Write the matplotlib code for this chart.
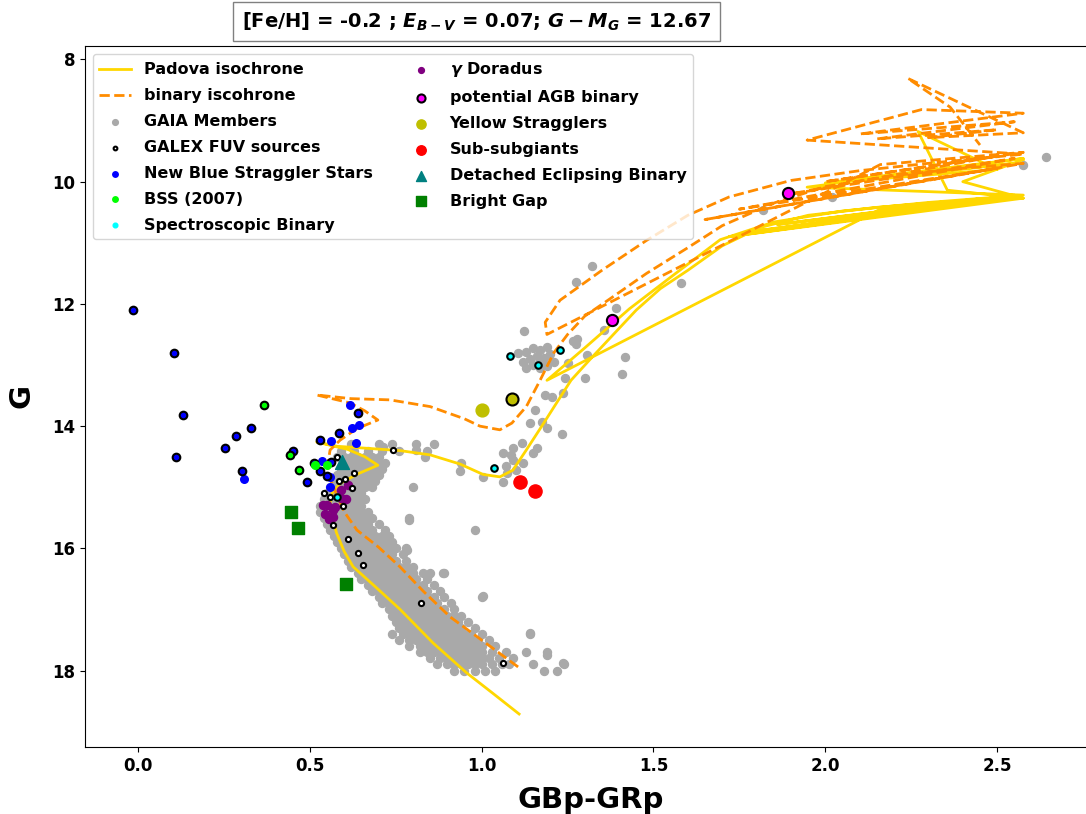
import matplotlib
matplotlib.use("Agg")
import matplotlib.pyplot as plt

plt.rcParams['font.weight'] = 'bold'
plt.rcParams['axes.labelweight'] = 'bold'
plt.rcParams['mathtext.fontset'] = 'custom'
plt.rcParams['mathtext.rm'] = 'DejaVu Sans:bold'
plt.rcParams['mathtext.it'] = 'DejaVu Sans:italic:bold'
plt.rcParams['mathtext.bf'] = 'DejaVu Sans:bold'

# Padova isochrone (single stars)
pad_x = [1.109, 1.03, 0.957, 0.859, 0.763, 0.695, 0.626, 0.600, 0.578, 0.563, 0.559, 0.566,
         0.590, 0.640, 0.698, 0.660, 0.610, 0.520, 0.580, 0.660, 0.762, 0.850, 0.937, 1.004,
         1.053, 1.091, 1.130, 1.175, 1.218, 1.260, 1.320, 1.380, 1.450, 1.520, 1.600, 1.700,
         1.810, 1.950, 2.150, 2.350, 2.576, 1.720, 2.500, 1.780, 2.550, 1.860, 2.450, 2.160,
         1.190, 1.300, 1.430, 1.560, 1.694, 1.850, 2.050, 2.300, 2.576, 1.947, 2.576, 2.000,
         2.550, 2.100, 2.500, 2.270, 2.355, 2.576, 2.400, 2.576]
pad_y = [18.71, 18.36, 18.04, 17.55, 17.00, 16.65, 16.30, 16.05, 15.75, 15.45, 15.25, 15.08,
         14.93, 14.78, 14.64, 14.50, 14.38, 14.26, 14.33, 14.36, 14.40, 14.47, 14.62, 14.79,
         14.83, 14.72, 14.39, 14.00, 13.62, 13.25, 12.88, 12.52, 12.10, 11.75, 11.45, 11.05,
         10.75, 10.55, 10.42, 10.33, 10.27, 10.90, 10.30, 10.82, 10.22, 10.70, 10.28, 10.45,
         13.25, 12.72, 12.08, 11.52, 10.95, 10.66, 10.48, 10.34, 10.22, 10.09, 9.62, 10.02,
         9.70, 9.98, 9.80, 9.18, 10.14, 10.27, 10.00, 9.64]

# binary isochrone
bin_x = [1.106, 1.000, 0.908, 0.830, 0.762, 0.700, 0.637, 0.600, 0.573, 0.555, 0.553, 0.559,
         0.588, 0.637, 0.698, 0.660, 0.617, 0.520, 0.620, 0.733, 0.850, 0.950, 0.995, 1.053,
         1.088, 1.130, 1.170, 1.210, 1.250, 1.300, 1.370, 1.480, 1.600, 1.700, 1.850, 2.000,
         2.200, 2.400, 2.576, 1.650, 2.500, 1.750, 2.550, 1.900, 2.500, 2.000, 2.576, 2.160,
         1.190, 1.185, 1.228, 1.350, 1.480, 1.600, 1.720, 1.900, 2.100, 2.300, 2.576, 1.947,
         2.280, 2.576, 2.100, 2.550, 2.150, 2.500, 2.300, 2.576, 2.240, 2.363, 2.450]
bin_y = [17.94, 17.50, 17.12, 16.70, 16.30, 15.98, 15.70, 15.40, 15.05, 14.80, 14.60, 14.39,
         14.23, 14.04, 13.90, 13.75, 13.62, 13.49, 13.55, 13.57, 13.68, 13.88, 14.00, 14.06,
         13.95, 13.68, 13.25, 12.80, 12.50, 12.20, 11.93, 11.50, 11.08, 10.72, 10.35, 10.08,
         9.90, 9.78, 9.70, 10.62, 9.78, 10.45, 9.62, 10.20, 9.58, 10.00, 9.52, 9.72,
         12.50, 12.30, 11.94, 11.45, 10.96, 10.55, 10.25, 9.98, 9.82, 9.70, 9.55, 9.32,
         8.82, 8.88, 9.22, 9.02, 9.30, 9.15, 9.28, 9.20, 8.31, 8.78, 9.40]

# GAIA members: main sequence rows (G, colours) and scattered stars
gaia_rows = [
    (14.3, [0.62, 0.70, 0.74, 0.81, 0.862]),
    (14.4, [0.59, 0.63, 0.67, 0.71, 0.76, 0.84]),
    (14.5, [0.58, 0.60, 0.62, 0.64, 0.66, 0.68, 0.70, 0.835]),
    (14.6, [0.60, 0.62, 0.64, 0.66, 0.68, 0.70, 0.72]),
    (14.7, [0.59, 0.61, 0.63, 0.65, 0.67, 0.69, 0.71]),
    (14.8, [0.58, 0.60, 0.62, 0.64, 0.66, 0.68, 0.70]),
    (14.9, [0.57, 0.59, 0.61, 0.63, 0.65, 0.67, 0.69]),
    (15.0, [0.56, 0.58, 0.60, 0.62, 0.64, 0.66, 0.68, 0.80]),
    (15.1, [0.55, 0.57, 0.59, 0.61, 0.63, 0.65]),
    (15.2, [0.54, 0.56, 0.58, 0.60, 0.62, 0.64, 0.66]),
    (15.3, [0.53, 0.55, 0.57, 0.59, 0.61, 0.63, 0.65]),
    (15.4, [0.53, 0.55, 0.57, 0.59, 0.61, 0.63, 0.65, 0.67]),
    (15.5, [0.54, 0.56, 0.58, 0.60, 0.62, 0.64, 0.66, 0.68, 0.79]),
    (15.6, [0.55, 0.57, 0.59, 0.61, 0.63, 0.65, 0.67, 0.70]),
    (15.7, [0.56, 0.58, 0.60, 0.62, 0.64, 0.66, 0.68, 0.72, 0.98]),
    (15.8, [0.57, 0.59, 0.61, 0.63, 0.65, 0.67, 0.69, 0.71, 0.73]),
    (15.9, [0.58, 0.60, 0.62, 0.64, 0.66, 0.68, 0.70, 0.72, 0.74]),
    (16.0, [0.59, 0.61, 0.63, 0.65, 0.67, 0.69, 0.71, 0.73, 0.75, 0.78]),
    (16.1, [0.60, 0.62, 0.64, 0.66, 0.68, 0.70, 0.72, 0.74, 0.77]),
    (16.2, [0.61, 0.63, 0.65, 0.67, 0.69, 0.71, 0.73, 0.75, 0.78]),
    (16.3, [0.62, 0.64, 0.66, 0.68, 0.70, 0.72, 0.74, 0.76, 0.78, 0.80]),
    (16.4, [0.64, 0.66, 0.68, 0.70, 0.72, 0.74, 0.76, 0.78, 0.80, 0.83, 0.85, 0.89]),
    (16.5, [0.65, 0.67, 0.69, 0.71, 0.73, 0.75, 0.77, 0.79, 0.81, 0.84]),
    (16.6, [0.67, 0.69, 0.71, 0.73, 0.75, 0.77, 0.79, 0.81, 0.83, 0.86]),
    (16.7, [0.68, 0.70, 0.72, 0.74, 0.76, 0.78, 0.80, 0.82, 0.84, 0.88]),
    (16.8, [0.70, 0.72, 0.74, 0.76, 0.78, 0.80, 0.82, 0.84, 0.86, 0.89, 1.00]),
    (16.9, [0.71, 0.73, 0.75, 0.77, 0.79, 0.81, 0.83, 0.85, 0.87, 0.91]),
    (17.0, [0.73, 0.75, 0.77, 0.79, 0.81, 0.83, 0.85, 0.87, 0.89, 0.92]),
    (17.1, [0.74, 0.76, 0.78, 0.80, 0.82, 0.84, 0.86, 0.88, 0.90, 0.92, 0.94]),
    (17.2, [0.75, 0.77, 0.79, 0.81, 0.83, 0.85, 0.87, 0.89, 0.91, 0.93, 0.96]),
    (17.3, [0.76, 0.78, 0.80, 0.82, 0.84, 0.86, 0.88, 0.90, 0.92, 0.94, 0.98]),
    (17.4, [0.74, 0.77, 0.79, 0.81, 0.83, 0.85, 0.87, 0.89, 0.91, 0.93, 0.95, 0.97, 1.00, 1.14]),
    (17.5, [0.76, 0.79, 0.81, 0.83, 0.85, 0.87, 0.89, 0.91, 0.93, 0.95, 0.97, 0.99, 1.02]),
    (17.6, [0.79, 0.82, 0.84, 0.86, 0.88, 0.90, 0.92, 0.94, 0.96, 0.98, 1.00, 1.04]),
    (17.7, [0.82, 0.84, 0.86, 0.88, 0.90, 0.92, 0.94, 0.96, 0.98, 1.00, 1.03, 1.07, 1.13, 1.19]),
    (17.8, [0.85, 0.88, 0.90, 0.92, 0.94, 0.96, 0.98, 1.00, 1.02, 1.05, 1.09]),
    (17.9, [0.87, 0.90, 0.92, 0.94, 0.96, 0.98, 1.00, 1.03, 1.06, 1.08, 1.15, 1.24]),
    (18.0, [0.92, 0.95, 0.98, 1.01, 1.04, 1.18, 1.22]),
]
gaia_extra_x = [0.713, 0.810, 0.940, 0.937, 1.004, 1.063, 1.073, 1.100, 1.090, 1.063, 1.084,
                1.150, 1.160, 1.091, 1.118, 1.120, 1.070, 1.234, 1.190, 1.176, 1.141, 1.155,
                1.237, 1.204, 1.184, 1.243, 1.300, 1.409, 1.417, 1.306, 1.266, 1.355, 1.390,
                1.275, 1.123, 1.106, 1.250, 1.277, 1.320, 1.275, 1.580, 1.818, 2.020, 2.576,
                2.642, 1.130, 1.150, 1.170, 1.190, 1.140, 1.160, 1.180, 1.200, 1.130, 1.150,
                1.170, 1.190, 1.210, 1.120, 1.170, 0.782, 0.888, 0.845, 1.003, 1.140, 1.190,
                1.237, 0.790]
gaia_extra_y = [14.34, 14.39, 14.60, 14.73, 14.83, 14.92, 14.77, 14.72, 14.56, 14.44, 14.47,
                14.44, 14.35, 14.36, 14.28, 14.60, 14.65, 14.13, 14.03, 13.94, 13.95, 13.74,
                13.46, 13.52, 13.49, 13.22, 13.21, 13.14, 12.87, 12.84, 12.60, 12.43, 12.07,
                12.66, 12.44, 12.80, 12.97, 12.58, 11.38, 11.64, 11.66, 10.47, 10.25, 9.73,
                9.60, 12.78, 12.72, 12.75, 12.70, 12.90, 12.85, 12.88, 12.82, 13.05, 13.00,
                13.05, 13.02, 12.95, 12.95, 12.95, 16.03, 16.40, 16.43, 16.78, 17.39, 17.74,
                17.87, 15.53]

# GALEX FUV sources without other classification
galex_x = [0.597, 0.568, 0.611, 0.640, 0.655, 0.824, 1.063, 0.579, 0.630, 0.585, 0.602,
           0.622, 0.540, 0.558, 0.742]
galex_y = [15.30, 15.62, 15.85, 16.07, 16.27, 16.90, 17.87, 14.50, 14.77, 14.90, 14.87,
           15.01, 15.10, 15.16, 14.39]

# New blue stragglers (fuv = 1 also a GALEX FUV source)
bss_x = [0.309, 0.617, 0.624, 0.644, 0.633, 0.561, 0.535, 0.558, 0.558, -0.015, 0.106, 0.130,
         0.110, 0.254, 0.285, 0.329, 0.302, 0.452, 0.493, 0.529, 0.513, 0.529, 0.549, 0.561,
         0.585, 0.639]
bss_y = [14.87, 13.65, 14.03, 13.98, 14.28, 14.25, 14.57, 14.83, 14.99, 12.10, 12.80, 13.81,
         14.50, 14.35, 14.16, 14.03, 14.73, 14.41, 14.92, 14.23, 14.60, 14.73, 14.81, 14.58,
         14.12, 13.79]
bss_fuv = [0, 0, 0, 0, 0, 0, 0, 0, 0, 1, 1, 1, 1, 1, 1, 1, 1, 1, 1, 1, 1, 1, 1, 1, 1, 1]

bss07_x = [0.515, 0.549, 0.368, 0.441, 0.468]
bss07_y = [14.64, 14.64, 13.65, 14.48, 14.72]
bss07_fuv = [0, 0, 1, 1, 1]

spec_x = [1.083, 1.163, 1.229, 1.035, 0.580]
spec_y = [12.86, 13.00, 12.76, 14.68, 15.16]

gdor_x = [0.539, 0.573, 0.545, 0.568, 0.605, 0.612, 0.592, 0.549, 0.568, 0.592, 0.556]
gdor_y = [15.29, 15.32, 15.43, 15.48, 15.20, 14.96, 15.04, 15.29, 15.38, 15.18, 15.52]

agb_x = [1.380, 1.890]
agb_y = [12.26, 10.19]

yss_x = [1.000, 1.089]
yss_y = [13.74, 13.56]
yss_fuv = [0, 1]

ssg_x = [1.112, 1.156]
ssg_y = [14.92, 15.06]

deb_x = [0.593]
deb_y = [14.58]

gap_x = [0.445, 0.465, 0.605]
gap_y = [15.40, 15.66, 16.59]

gaia_x = [c for g, cols in gaia_rows for c in cols] + gaia_extra_x
gaia_y = [g for g, cols in gaia_rows for c in cols] + gaia_extra_y


def split(xs, ys, flags):
    plain = ([x for x, f in zip(xs, flags) if not f], [y for y, f in zip(ys, flags) if not f])
    ringed = ([x for x, f in zip(xs, flags) if f], [y for y, f in zip(ys, flags) if f])
    return plain, ringed


fig = plt.figure(figsize=(10.86, 8.14), dpi=100)
ax = fig.add_axes([0.0783, 0.0823, 0.932, 0.8612])

ax.plot(pad_x, pad_y, color='gold', lw=2, label='Padova isochrone', zorder=2)
ax.plot(bin_x, bin_y, color='darkorange', lw=2, ls='--', label='binary iscohrone', zorder=2)
ax.scatter(gaia_x, gaia_y, s=33, color='darkgray', label='GAIA Members', zorder=1)
ax.scatter(galex_x, galex_y, s=14, facecolor='white', edgecolor='black', lw=1.5,
           label='GALEX FUV sources', zorder=4)

(px, py), (rx, ry) = split(bss_x, bss_y, bss_fuv)
ax.scatter(px, py, s=30, color='blue', label='New Blue Straggler Stars', zorder=4)
ax.scatter(rx, ry, s=30, facecolor='blue', edgecolor='black', lw=1.5, zorder=4)

(px, py), (rx, ry) = split(bss07_x, bss07_y, bss07_fuv)
ax.scatter(px, py, s=30, color='lime', label='BSS (2007)', zorder=4)
ax.scatter(rx, ry, s=30, facecolor='lime', edgecolor='black', lw=1.5, zorder=4)

ax.scatter(spec_x, spec_y, s=22, color='cyan', label='Spectroscopic Binary', zorder=5)
ax.scatter(spec_x, spec_y, s=22, facecolor='cyan', edgecolor='black', lw=1.5, zorder=5)

ax.scatter(gdor_x, gdor_y, s=34, color='purple', label=r'$\gamma$ Doradus', zorder=3)
ax.scatter(agb_x, agb_y, s=65, facecolor='magenta', edgecolor='black', lw=1.5,
           label='potential AGB binary', zorder=5)

(px, py), (rx, ry) = split(yss_x, yss_y, yss_fuv)
ax.scatter(px, py, s=85, color='y', label='Yellow Stragglers', zorder=5)
ax.scatter(rx, ry, s=75, facecolor='y', edgecolor='black', lw=1.5, zorder=5)

ax.scatter(ssg_x, ssg_y, s=90, color='red', label='Sub-subgiants', zorder=5)
ax.scatter(deb_x, deb_y, s=100, marker='^', color='teal', label='Detached Eclipsing Binary', zorder=5)
ax.scatter(gap_x, gap_y, s=85, marker='s', color='green', label='Bright Gap', zorder=5)

ax.set_xlim(-0.154, 2.791)
ax.set_ylim(19.25, 7.78)
ax.set_xticks([0.0, 0.5, 1.0, 1.5, 2.0, 2.5])
ax.set_yticks([8, 10, 12, 14, 16, 18])
ax.tick_params(labelsize=12)
ax.spines['right'].set_visible(False)
ax.set_xlabel('GBp-GRp', fontsize=21, fontweight='bold', labelpad=8)
ax.set_ylabel('G', fontsize=21, fontweight='bold', labelpad=12)

ax.legend(loc='upper left', ncol=2, markerscale=0.72, labelspacing=0.68,
          prop={'weight': 'bold', 'size': 11.5})

fig.text(0.439, 0.9736, r'[Fe/H] = -0.2 ; $E_{B-V}$ = 0.07; $G-M_G$ = 12.67',
         ha='center', va='center', fontsize=14, fontweight='bold',
         bbox=dict(facecolor='white', edgecolor='gray', boxstyle='square,pad=0.45'))

fig.savefig('out.png', dpi=100)
